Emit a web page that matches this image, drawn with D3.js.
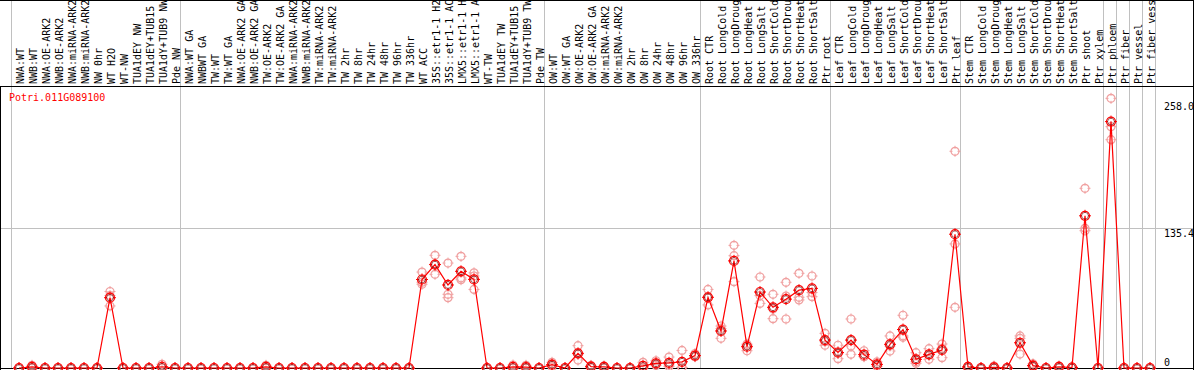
<!DOCTYPE html>
<html>
<head>
<meta charset="utf-8">
<script src="https://cdn.jsdelivr.net/npm/d3@7"></script>
<style>
  body { margin: 0; background: #fff; }
  #chart { display: block; }
  .lbl { font-family: "DejaVu Sans Mono", monospace; font-size: 10px; fill: #000; }
  .grid { stroke: #c0c0c0; stroke-width: 1; shape-rendering: crispEdges; }
  .frame { stroke: #000; stroke-width: 1; shape-rendering: crispEdges; }
</style>
</head>
<body>
<svg id="chart" width="1194" height="370"></svg>
<script>
// sample names, one per column
const samples = [
  'NWA:WT', 'NWB:WT', 'NWA:OE-ARK2', 'NWB:OE-ARK2', 'NWA:miRNA-ARK2', 'NWB:miRNA-ARK2', 'NW 0hr', 'WT H2O', 'WT-NW',
  'TUA1dEY NW', 'TUA1dEY+TUB15 NW', 'TUA1dY+TUB9 NW', 'Pde NW',
  'NWA:WT GA', 'NWBWT GA', 'TW:WT', 'TW:WT GA', 'NWA:OE-ARK2 GA', 'NWB:OE-ARK2 GA', 'TW:OE-ARK2', 'TW:OE-ARK2 GA',
  'NWA:miRNA-ARK2 GA', 'NWB:miRNA-ARK2 GA', 'TW:miRNA-ARK2', 'TW:miRNA-ARK2', 'TW 2hr', 'TW 8hr', 'TW 24hr', 'TW 48hr',
  'TW 96hr', 'TW 336hr', 'WT ACC', '35S::etr1-1 H2O', '35S::etr1-1 ACC', 'LMX5::etr1-1 H2O', 'LMX5::etr1-1 ACC',
  'WT-TW', 'TUA1dEY TW', 'TUA1dEY+TUB15 TW', 'TUA1dY+TUB9 TW', 'Pde TW',
  'OW:WT', 'OW:WT GA', 'OW:OE-ARK2', 'OW:OE-ARK2 GA', 'OW:miRNA-ARK2', 'OW:miRNA-ARK2', 'OW 2hr', 'OW 8hr', 'OW 24hr',
  'OW 48hr', 'OW 96hr', 'OW 336hr',
  'Root CTR', 'Root LongCold', 'Root LongDrought', 'Root LongHeat', 'Root LongSalt', 'Root ShortCold', 'Root ShortDrought',
  'Root ShortHeat', 'Root ShortSalt', 'Ptr root',
  'Leaf CTR', 'Leaf LongCold', 'Leaf LongDrought', 'Leaf LongHeat', 'Leaf LongSalt', 'Leaf ShortCold', 'Leaf ShortDrought',
  'Leaf ShortHeat', 'Leaf ShortSalt', 'Ptr leaf',
  'Stem CTR', 'Stem LongCold', 'Stem LongDrought', 'Stem LongHeat', 'Stem LongSalt', 'Stem ShortCold', 'Stem ShortDrought',
  'Stem ShortHeat', 'Stem ShortSalt', 'Ptr shoot', 'Ptr xylem',
  'Ptr phloem', 'Ptr fiber', 'Ptr vessel', 'Ptr fiber vessel'
];

// index of the first sample in each group (separator lines)
const groupStarts = [0, 13, 41, 53, 63, 73, 84, 85, 86, 87, 88];

// mean expression per sample
const means = [
  0, 1, 0, 0, 0, 0, 0, 68, 0, 0, 0, 1.2, 0,
  0, 0, 0, 0, 0, 0, 1, 0, 0, 0, 0, 0, 0, 0, 0, 0, 0, 0,
  85.6, 100, 80.3, 93.5, 85.7, 0, 0, 1, 0.9, 0,
  3.2, 0, 14.2, 1.3, 1, 0, 0, 2, 4.5, 5, 6, 12,
  68.4, 35.8, 103.6, 20.6, 73.5, 58.7, 66.6, 75.3, 77, 27,
  15, 27, 12.9, 3.5, 22.9, 37.2, 8.4, 13.2, 17.4, 129.4,
  1, 0, 0.6, 0, 24.4, 2.3, 0, 1, 0.5, 147.2, 0,
  238.3, 0, 0, 0
];

// replicate values per sample
const replicates = [
  [0, 0, 0], [2.6, 0.2, 0.2], [0, 0, 0], [0, 0, 0], [0, 0, 0], [0, 0, 0], [0, 0, 0], [74, 60, 70], [0, 0, 0],
  [0, 0, 0], [0, 0, 0], [3.6, 0, 0], [0, 0, 0],
  [0, 0, 0], [0, 0, 0], [0, 0, 0], [0, 0, 0], [0, 0, 0], [0, 0, 0], [2.6, 0.2, 0.2], [0, 0, 0],
  [0, 0, 0], [0, 0, 0], [0, 0, 0], [0, 0, 0], [0, 0, 0], [0, 0, 0], [0, 0, 0], [0, 0, 0], [0, 0, 0], [0, 0, 0],
  [92.8, 82.9, 81], [109, 90.6, 100.4], [101.5, 71.3, 68], [108, 85.4, 87.1], [92, 89, 76],
  [0, 0, 0], [0, 0, 0], [2.9, 0.1, 0], [2.6, 0.1, 0], [0, 0, 0],
  [5.5, 3, 1.1], [0, 0, 0], [21.6, 7.7, 13.3], [2.5, 1, 0.4], [2, 0.8, 0.2], [0, 0, 0], [0, 0, 0],
  [5.5, 0.3, 0.2], [7, 4, 2.5], [10.6, 3, 1.4], [17, 0.5, 0.5], [14, 11, 11],
  [76, 61, 68.2], [40.6, 28.7, 38.1], [118.6, 108.6, 83.5], [16.7, 22, 23.1], [88, 62.5, 70],
  [71.3, 47.7, 57.1], [82.9, 69.6, 47.4], [91.6, 68.4, 65.8], [89, 69, 73], [33.5, 22, 25.5],
  [22, 14, 9], [47.4, 21.3, 13.2], [16.7, 10.9, 11.1], [6, 3, 1.5], [31, 16.4, 21.3], [51, 31, 29.7],
  [14.8, 4.5, 6], [18.7, 8.4, 12.5], [23.2, 10, 19], [120, 58.7, 209.6],
  [1.5, 1, 0.5], [0, 0, 0], [1.9, 0, 0], [0, 0, 0], [31, 28.7, 13.5], [4, 2, 1], [0, 0, 0],
  [2, 0.5, 0.5], [1, 0.5, 0], [173.8, 135.1, 132.8], [0, 0, 0],
  [260.8, 233.4, 220.8], [0, 0, 0], [0, 0, 0], [0, 0, 0]
];

const geneId = 'Potri.011G089100';
const yMax = 270.8;
const yTicks = [0, 135.4, 258.0];
const yGrid = [135.4];

const width = 1194, height = 370;
const plotTop = 88, plotBottom = 368;
const svg = d3.select('#chart');

const x = d3.scaleBand()
  .domain(d3.range(samples.length))
  .range([10.5, 10.5 + 13 * samples.length]);
const px = i => x(i) + 8.5;
const sepX = k => Math.round(10.5 + 13 * k) + 0.5;

const y = d3.scaleLinear()
  .domain([0, yMax])
  .range([plotBottom, plotTop]);

// group separators, full height
svg.selectAll('.sep')
  .data(groupStarts)
  .enter().append('line')
  .attr('class', 'grid')
  .attr('x1', d => sepX(d))
  .attr('x2', d => sepX(d))
  .attr('y1', 0).attr('y2', plotBottom);

// horizontal grid
svg.selectAll('.hgrid')
  .data(yGrid)
  .enter().append('line')
  .attr('class', 'grid')
  .attr('x1', 0).attr('x2', width)
  .attr('y1', d => Math.round(y(d)) + 0.5)
  .attr('y2', d => Math.round(y(d)) + 0.5);

// frame
svg.append('line').attr('class', 'frame').attr('x1', 0).attr('x2', width).attr('y1', 0.5).attr('y2', 0.5);
svg.append('line').attr('class', 'frame').attr('x1', 0).attr('x2', width).attr('y1', 86.5).attr('y2', 86.5);
svg.append('line').attr('class', 'frame').attr('x1', 0).attr('x2', width).attr('y1', plotBottom + 0.5).attr('y2', plotBottom + 0.5);
svg.append('line').attr('class', 'frame').attr('x1', 0.5).attr('x2', 0.5).attr('y1', 86).attr('y2', height);
svg.append('line').attr('class', 'frame').attr('x1', width - 0.5).attr('x2', width - 0.5).attr('y1', 0).attr('y2', height);

// sample labels, vertical
svg.selectAll('.slbl')
  .data(samples)
  .enter().append('text')
  .attr('class', 'lbl')
  .attr('transform', (d, i) => `translate(${px(i) + 5},84) rotate(-90)`)
  .text(d => d);

// right axis labels
svg.selectAll('.ylbl')
  .data(yTicks)
  .enter().append('text')
  .attr('class', 'lbl')
  .attr('x', 1164)
  .attr('y', d => d === 0 ? y(d) - 2 : y(d) + 9)
  .text(d => d === 0 ? '0' : d.toFixed(1));

svg.append('text')
  .attr('class', 'lbl')
  .attr('x', 9).attr('y', 101)
  .style('fill', '#ff0000')
  .text(geneId);

function marker(g, color, r) {
  g.append('circle').attr('r', r).attr('fill', 'none').attr('stroke', color).attr('stroke-width', 1.2);
  [[0, -1], [0, 1], [-1, 0], [1, 0]].forEach(([dx, dy]) => {
    g.append('line')
      .attr('x1', dx * (r - 1.5)).attr('y1', dy * (r - 1.5))
      .attr('x2', dx * (r + 1.5)).attr('y2', dy * (r + 1.5))
      .attr('stroke', color).attr('stroke-width', 1);
  });
}

// replicates
const repPts = [];
replicates.forEach((vals, i) => vals.forEach(v => repPts.push([i, v])));
svg.append('g').selectAll('g')
  .data(repPts)
  .enter().append('g')
  .attr('transform', d => `translate(${px(d[0])},${y(d[1])})`)
  .each(function () { marker(d3.select(this), '#f0a0a0', 4); });

// mean line
svg.append('path')
  .datum(means)
  .attr('fill', 'none')
  .attr('stroke', '#ff0000')
  .attr('stroke-width', 1.2)
  .attr('d', d3.line().x((d, i) => px(i)).y(d => y(d)));

// mean markers
svg.append('g').selectAll('g')
  .data(means)
  .enter().append('g')
  .attr('transform', (d, i) => `translate(${px(i)},${y(d)})`)
  .each(function () {
    const g = d3.select(this);
    marker(g, '#ff0000', 4.5);
    g.append('circle').attr('r', 3.4).attr('fill', 'none').attr('stroke', '#600000').attr('stroke-width', 0.6);
  });
</script>
</body>
</html>
